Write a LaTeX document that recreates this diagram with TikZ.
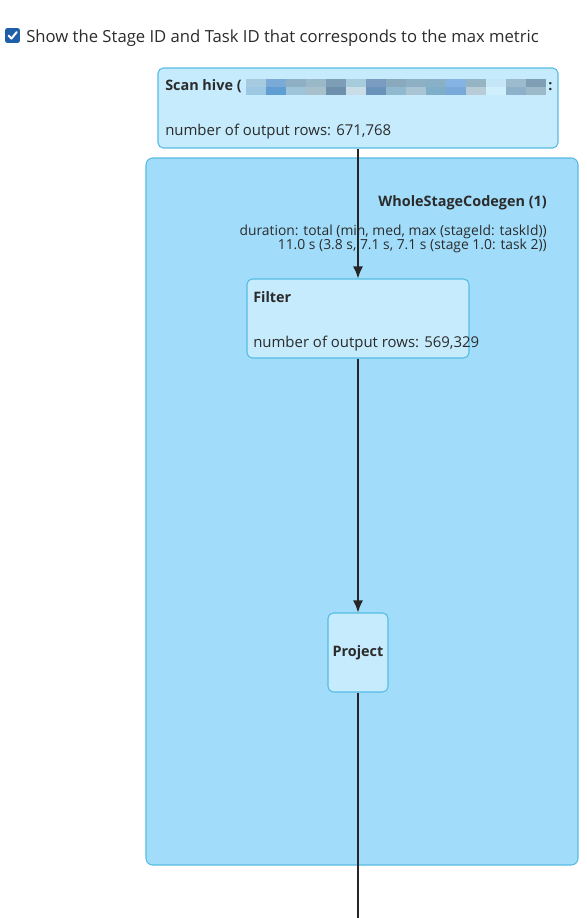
\documentclass[tikz,border=0pt]{standalone}
\usepackage{fontspec}
\setmainfont{Open Sans}
\usetikzlibrary{positioning,arrows.meta}
\definecolor{clusterfill}{HTML}{A1DDFB}
\definecolor{nodefill}{HTML}{C5EBFC}
\definecolor{nodeline}{HTML}{56BCE3}
\definecolor{labeltext}{HTML}{2B2B2B}
\definecolor{checkblue}{HTML}{1E5FA8}

\begin{document}
\begin{tikzpicture}[
  x=0.75pt, y=-0.75pt,
  opbox/.style={draw=nodeline, fill=nodefill, rounded corners=4pt, line width=0.8pt, inner sep=0pt},
  cluster/.style={draw=nodeline, fill=clusterfill, rounded corners=5pt, line width=0.8pt, inner sep=0pt},
  title/.style={font=\bfseries\fontsize{10.8}{12}\selectfont, text=labeltext, inner sep=0pt},
  metric/.style={font=\fontsize{11.2}{13}\selectfont, text=labeltext, inner sep=0pt},
  duration/.style={font=\fontsize{10.4}{12}\selectfont, text=labeltext, inner sep=0pt},
  edge/.style={-{Latex[length=9pt, width=7.5pt]}, line width=1.1pt, black!85},
  plain/.style={line width=1.1pt, black!85}
]
  \path[use as bounding box] (0,0) rectangle (586,918);

  % Checkbox
  \node[fill=checkblue, rounded corners=1.5pt, minimum size=11pt, inner sep=0pt] (chk) at (12.5,35.5) {};
  \draw[white, line width=1.5pt, line cap=round, line join=round] ([xshift=-3pt, yshift=0pt]chk.center) -- ([xshift=-0.8pt, yshift=-2.3pt]chk.center) -- ([xshift=3.2pt, yshift=2.6pt]chk.center);
  \node[font=\fontsize{12.5}{15}\selectfont, text=labeltext, inner sep=0pt, anchor=base west] (showtxt) at (26,42) {Show the Stage ID and Task ID that corresponds to the max metric};

  % Cluster
  \node[cluster, minimum width=324pt, minimum height=530.25pt] (wscg) at (362,511.5) {};
  \node[title, anchor=base east] (wscgtitle) at (547,206) {WholeStageCodegen (1)};
  \node[duration, anchor=base east] (dur1) at (547,235) {duration: total (min, med, max (stageId: taskId))};
  \node[duration, anchor=base east] (dur2) at (547,249) {11.0 s (3.8 s, 7.1 s, 7.1 s (stage 1.0: task 2))};

  % Scan (table name pixelated)
  \node[opbox, minimum width=300pt, minimum height=60pt] (scan) at (358,108) {};
  \node[title, anchor=base west] (scantitle) at (165,90) {Scan hive (};
  \foreach \c [count=\i] in {9CC8E4,5F9ED2,9EC4D9,A8C0CC,6F90AC,C8DDE6,6A93BC,90B8CE,A9C4D2,7FAFC8,79A8DB,B7CCD6,CFEFFC,8CB1C8,9CB9CA}{
    \definecolor{cell}{HTML}{\c}
    \fill[cell] ({246+(\i-1)*20},87) rectangle ++(20,8);
  }
  \foreach \c [count=\i] in {A6CBE0,7CAAD6,8FB0C4,9AB9C8,7E9EB8,A6CCDC,7A9CC0,8AA9BC,8DB0C4,88B0C6,86B4E2,95B4C4,C4E6F6,9CBCCE,7F9FB4}{
    \definecolor{cell}{HTML}{\c}
    \fill[cell] ({246+(\i-1)*20},79) rectangle ++(20,8);
  }
  \node[title, anchor=base west] (scancolon) at (548,90) {:};
  \node[metric, anchor=base west] (scanrows) at (165,135) {number of output rows: 671,768};

  % Filter
  \node[opbox, minimum width=166.5pt, minimum height=59.25pt] (filter) at (358,318.5) {};
  \node[title, anchor=base west] (filtertitle) at (253,302) {Filter};
  \node[metric, anchor=base west] (filterrows) at (253,347) {number of output rows: 569,329};

  % Project
  \node[opbox, minimum width=45pt, minimum height=59.25pt] (project) at (358,652.5) {};
  \node[title] (projecttitle) at (358,652.5) {Project};
  \coordinate (exit) at (358,918);

  \draw[edge] (scan) -- (filter);
  \draw[edge] (filter) -- (project);
  \draw[plain] (project) -- (exit);
\end{tikzpicture}
\end{document}
